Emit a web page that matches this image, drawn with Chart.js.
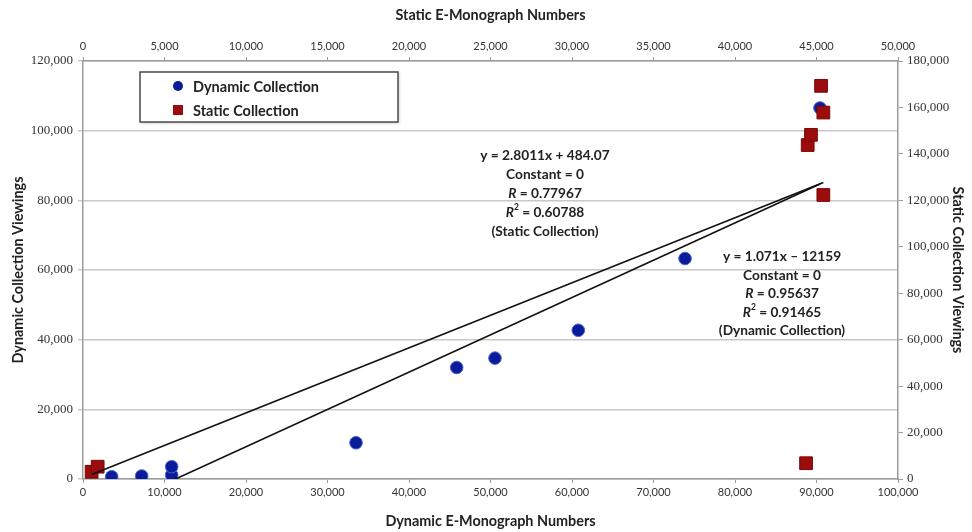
<!DOCTYPE html>
<html>
<head>
<meta charset="utf-8">
<script src="https://cdn.jsdelivr.net/npm/chart.js@4.4.1/dist/chart.umd.min.js"></script>
<style>
  html, body { margin: 0; padding: 0; background: #ffffff; }
  canvas { display: block; }
</style>
</head>
<body>
<canvas id="chart" width="972" height="532"></canvas>
<script>
// Dynamic collection: e-monograph numbers (bottom axis) vs viewings (left axis)
const dynamicMonographs = [3520, 7200, 10880, 10880, 33500, 45850, 50550, 60770, 73870, 90430];
const dynamicViewings   = [660, 860, 1150, 3530, 10400, 32000, 34700, 42700, 63300, 106500];

// Static collection: e-monograph numbers (top axis) vs viewings (right axis)
const staticMonographs = [530, 900, 44460, 44660, 45280, 45420, 45420, 44360];
const staticViewings   = [3100, 5300, 143800, 148200, 169300, 157800, 122300, 6800];

// Linear fits: [slope, intercept]
const dynamicFit = [1.071, -12159];
const staticFit  = [2.8011, 484.07];

// Fit statistics printed beside each trend line
const staticFitText  = ['y = 2.8011x + 484.07', 'Constant = 0', 'R = 0.77967', 'R² = 0.60788', '(Static Collection)'];
const dynamicFitText = ['y = 1.071x – 12159', 'Constant = 0', 'R = 0.95637', 'R² = 0.91465', '(Dynamic Collection)'];

// Axis ranges and tick steps: [min, max, step]
const bottomAxis = [0, 100000, 10000];
const topAxis    = [0, 50000, 5000];
const leftAxis   = [0, 120000, 20000];
const rightAxis  = [0, 180000, 20000];

const seriesNames = ['Dynamic Collection', 'Static Collection'];
const axisTitles = {
  bottom: 'Dynamic E-Monograph Numbers',
  top: 'Static E-Monograph Numbers',
  left: 'Dynamic Collection Viewings',
  right: 'Static Collection Viewings'
};

const BLUE = '#0b1c9b';
const RED = '#9b0c0c';
const SANS = 'Lato, "Open Sans", sans-serif';
const SERIF = '"Liberation Serif", "DejaVu Serif", serif';

const toPoints = (xs, ys) => xs.map((x, i) => ({ x, y: ys[i] }));
const fitLine = (xs, fit) => {
  const lo = Math.min(...xs), hi = Math.max(...xs);
  return [lo, hi].map(x => ({ x, y: fit[0] * x + fit[1] }));
};
const fmt = v => Number(v).toLocaleString('en-US');

// Boxed legend drawn inside the plot area, top left
const boxLegend = {
  id: 'boxLegend',
  afterDraw(chart) {
    const { ctx } = chart;
    const x = 140, y = 72, w = 258, h = 50;
    ctx.save();
    ctx.shadowColor = 'rgba(0,0,0,0.25)';
    ctx.shadowBlur = 3;
    ctx.shadowOffsetX = 1;
    ctx.shadowOffsetY = 1;
    ctx.fillStyle = '#ffffff';
    ctx.fillRect(x, y, w, h);
    ctx.shadowColor = 'transparent';
    ctx.strokeStyle = '#4a4a4a';
    ctx.lineWidth = 1.5;
    ctx.strokeRect(x, y, w, h);
    seriesNames.forEach((name, i) => {
      const ds = chart.data.datasets.find(d => d.label === name);
      const cy = y + 14 + i * 24;
      const cx = x + 38;
      ctx.fillStyle = ds.backgroundColor;
      if (ds.pointStyle === 'rect') {
        ctx.fillRect(cx - 5, cy - 5, 10, 10);
      } else {
        ctx.beginPath();
        ctx.arc(cx, cy, 5, 0, Math.PI * 2);
        ctx.fill();
      }
      ctx.fillStyle = '#222';
      ctx.font = 'bold 14.5px ' + SANS;
      ctx.textBaseline = 'middle';
      ctx.textAlign = 'left';
      ctx.fillText(name, x + 53, cy + 1);
    });
    ctx.restore();
  }
};

// Regression statistics text, with italic R and superscript 2
function drawStatLine(ctx, text, cx, cy) {
  const base = 'bold 13.7px ' + SANS;
  const ital = 'italic bold 13.7px ' + SANS;
  const sup = 'bold 8.5px ' + SANS;
  let parts;
  if (text.startsWith('R² ')) {
    parts = [[ital, 'R', 0], [sup, '2', -5], [base, text.slice(2), 0]];
  } else if (text.startsWith('R ')) {
    parts = [[ital, 'R', 0], [base, text.slice(1), 0]];
  } else {
    parts = [[base, text, 0]];
  }
  let total = 0;
  parts.forEach(p => { ctx.font = p[0]; p.push(ctx.measureText(p[1]).width); total += p[3]; });
  let x = cx - total / 2;
  parts.forEach(p => {
    ctx.font = p[0];
    ctx.fillText(p[1], x, cy + p[2]);
    x += p[3];
  });
}

const fitLabels = {
  id: 'fitLabels',
  afterDraw(chart) {
    const { ctx } = chart;
    ctx.save();
    ctx.fillStyle = '#222';
    ctx.textAlign = 'left';
    ctx.textBaseline = 'middle';
    staticFitText.forEach((t, i) => drawStatLine(ctx, t, 545, 156 + i * 18.8));
    dynamicFitText.forEach((t, i) => drawStatLine(ctx, t, 782, 257 + i * 18.5));
    ctx.restore();
  }
};

const tickFont = { family: SANS, size: 11 };
const sideFont = { family: SERIF, size: 13 };
const titleFont = { family: SANS, size: 14.4, weight: 'bold' };
const axisGray = '#9c9c9c';

new Chart(document.getElementById('chart'), {
  type: 'scatter',
  data: {
    datasets: [
      {
        label: 'Static trend', type: 'line',
        data: fitLine(staticMonographs, staticFit),
        xAxisID: 'x2', yAxisID: 'y2',
        borderColor: '#111', borderWidth: 1.6, pointRadius: 0, fill: false, order: -1
      },
      {
        label: 'Dynamic trend', type: 'line',
        data: fitLine(dynamicMonographs, dynamicFit),
        xAxisID: 'x', yAxisID: 'y',
        borderColor: '#111', borderWidth: 1.6, pointRadius: 0, fill: false, order: -1
      },
      {
        label: 'Static Collection',
        data: toPoints(staticMonographs, staticViewings),
        xAxisID: 'x2', yAxisID: 'y2',
        pointStyle: 'rect', pointRadius: 9,
        backgroundColor: RED, borderColor: '#7c0707', borderWidth: 1, order: 0
      },
      {
        label: 'Dynamic Collection',
        data: toPoints(dynamicMonographs, dynamicViewings),
        xAxisID: 'x', yAxisID: 'y',
        pointStyle: 'circle', pointRadius: 6.3,
        backgroundColor: BLUE, borderColor: '#4a62d0', borderWidth: 1, order: 1
      }
    ]
  },
  options: {
    responsive: false,
    animation: false,
    events: [],
    layout: { padding: 0 },
    plugins: { legend: { display: false }, tooltip: { enabled: false } },
    scales: {
      x: {
        type: 'linear', position: 'bottom',
        min: bottomAxis[0], max: bottomAxis[1],
        ticks: { stepSize: bottomAxis[2], callback: fmt, font: tickFont, color: '#333', padding: 3, maxRotation: 0 },
        grid: { drawOnChartArea: false, tickLength: 4, color: axisGray },
        border: { color: axisGray, width: 1.5 },
        title: { display: true, text: axisTitles.bottom, font: titleFont, color: '#222', padding: { top: 0, bottom: 2.4 } },
        afterFit: s => { s.height = 53; }
      },
      x2: {
        type: 'linear', position: 'top',
        min: topAxis[0], max: topAxis[1],
        ticks: { stepSize: topAxis[2], callback: fmt, font: tickFont, color: '#333', padding: 4, maxRotation: 0 },
        grid: { drawOnChartArea: false, tickLength: 4, color: axisGray },
        border: { color: axisGray, width: 1.5 },
        title: { display: true, text: axisTitles.top, font: titleFont, color: '#222', padding: { top: 6.4, bottom: 0 } },
        afterFit: s => { s.height = 61; }
      },
      y: {
        type: 'linear', position: 'left',
        min: leftAxis[0], max: leftAxis[1],
        ticks: { stepSize: leftAxis[2], callback: fmt, font: sideFont, color: '#333', padding: 5 },
        grid: { color: '#c8c8c8', lineWidth: 1.5, tickLength: 5 },
        border: { color: axisGray, width: 1.5 },
        title: { display: true, text: axisTitles.left, font: titleFont, color: '#222', padding: { top: 9.4, bottom: 0 } },
        afterFit: s => { s.width = 83; }
      },
      y2: {
        type: 'linear', position: 'right',
        min: rightAxis[0], max: rightAxis[1],
        ticks: { stepSize: rightAxis[2], callback: fmt, font: sideFont, color: '#333', padding: 4 },
        grid: { drawOnChartArea: false, tickLength: 5, color: axisGray },
        border: { color: axisGray, width: 1.5 },
        title: { display: true, text: axisTitles.right, font: titleFont, color: '#222', padding: { top: 5.4, bottom: 0 } },
        afterFit: s => { s.width = 74; }
      }
    }
  },
  plugins: [boxLegend, fitLabels]
});
</script>
</body>
</html>
